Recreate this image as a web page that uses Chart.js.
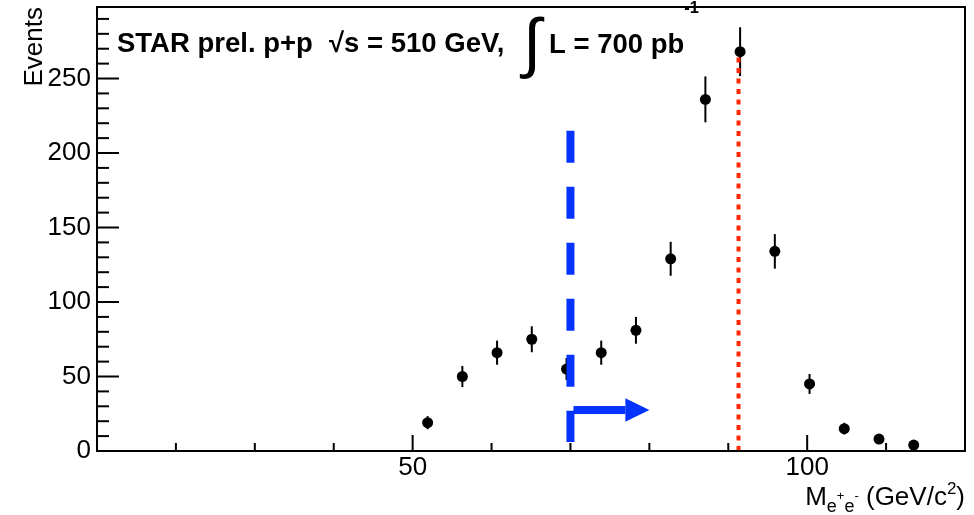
<!DOCTYPE html>
<html>
<head>
<meta charset="utf-8">
<script src="https://cdn.jsdelivr.net/npm/chart.js@4"></script>
<style>
  html, body { margin: 0; padding: 0; background: #fff; }
  #c { display: block; }
</style>
</head>
<body>
<canvas id="c" width="974" height="515"></canvas>
<script>
// invariant mass bins (GeV/c^2), counts and stat. errors
const massBins = [51.9, 56.3, 60.7, 65.1, 69.5, 73.9, 78.3, 82.7, 87.1, 91.5, 95.9, 100.3, 104.7, 109.1, 113.5];
const events = [19, 50, 66, 75, 55, 66, 81, 129, 236, 268, 134, 45, 15, 8, 4];
const eventErr = [4.4, 7.1, 8.1, 8.7, 7.4, 8.1, 9.0, 11.4, 15.4, 16.4, 11.6, 6.7, 3.9, 2.8, 2.0];

// mass cut (blue) and Z mass (red)
const cutMass = 70;
const cutLineY = [6, 215];
const cutArrowY = 27.5;
const cutArrowX = [70, 80];
const zMass = 91.3;
const zLineY = [0, 265];

// axes
const xRange = [10, 120];
const yRange = [0, 298];
const xLabels = [50, 100];
const yLabels = [0, 50, 100, 150, 200, 250];
const xMinorTicks = [20, 30, 40, 60, 70, 80, 90, 110];
const yMinorTicks = [10, 20, 30, 40, 60, 70, 80, 90, 110, 120, 130, 140, 160, 170, 180, 190,
                     210, 220, 230, 240, 260, 270, 280, 290];

const FONT = '"Liberation Sans", Arial, Helvetica, sans-serif';
const BLUE = '#0433ff';
const RED = '#ff2600';

// draw a run of text pieces: [text, size, dy, bold]
function drawRich(ctx, x, y, parts, align) {
    const widths = parts.map(p => {
        ctx.font = (p[3] ? 'bold ' : '') + p[1] + 'px ' + FONT;
        return ctx.measureText(p[0]).width;
    });
    const total = widths.reduce((a, b) => a + b, 0);
    let cx = align === 'right' ? x - total : x;
    parts.forEach((p, i) => {
        ctx.font = (p[3] ? 'bold ' : '') + p[1] + 'px ' + FONT;
        ctx.fillText(p[0], cx, y + p[2]);
        cx += widths[i];
    });
}

const errorBars = {
    id: 'errorBars',
    beforeDatasetsDraw(chart) {
        const { ctx, scales: { x, y } } = chart;
        ctx.save();
        ctx.strokeStyle = '#000';
        ctx.lineWidth = 2;
        massBins.forEach((m, i) => {
            const px = x.getPixelForValue(m);
            ctx.beginPath();
            ctx.moveTo(px, y.getPixelForValue(events[i] - eventErr[i]));
            ctx.lineTo(px, y.getPixelForValue(events[i] + eventErr[i]));
            ctx.stroke();
        });
        ctx.restore();
    }
};

const frameAndText = {
    id: 'frameAndText',
    afterDraw(chart) {
        const { ctx, chartArea: a, scales: { x, y } } = chart;
        ctx.save();

        // arrow showing the accepted side of the cut
        const ay = y.getPixelForValue(cutArrowY);
        const ax0 = x.getPixelForValue(cutArrowX[0]) + 3;
        const ax1 = x.getPixelForValue(cutArrowX[1]);
        ctx.fillStyle = BLUE;
        ctx.fillRect(ax0, ay - 4, ax1 - 24 - ax0, 8);
        ctx.beginPath();
        ctx.moveTo(ax1, ay);
        ctx.lineTo(ax1 - 24, ay - 11.7);
        ctx.lineTo(ax1 - 24, ay + 11.7);
        ctx.closePath();
        ctx.fill();

        // frame
        ctx.strokeStyle = '#000';
        ctx.lineWidth = 2;
        ctx.strokeRect(a.left, a.top, a.right - a.left, a.bottom - a.top);

        // inward ticks
        const tick = (x0, y0, x1, y1) => { ctx.beginPath(); ctx.moveTo(x0, y0); ctx.lineTo(x1, y1); ctx.stroke(); };
        xLabels.forEach(v => { const p = x.getPixelForValue(v); tick(p, a.bottom, p, a.bottom - 16); });
        xMinorTicks.forEach(v => { const p = x.getPixelForValue(v); tick(p, a.bottom, p, a.bottom - 8); });
        yLabels.forEach(v => { const p = y.getPixelForValue(v); tick(a.left, p, a.left + 22, p); });
        yMinorTicks.forEach(v => { const p = y.getPixelForValue(v); tick(a.left, p, a.left + 12, p); });

        // header
        ctx.fillStyle = '#000';
        ctx.textBaseline = 'alphabetic';
        ctx.textAlign = 'left';
        drawRich(ctx, 117, 52, [['STAR prel. p+p', 27.5, 0, true]]);
        drawRich(ctx, 329, 52, [['\u221As = 510 GeV,', 27.5, 0, true]]);
        drawRich(ctx, 523, 65, [['\u222B', 66, 0, false]]);
        drawRich(ctx, 549, 53, [['L = 700 pb', 27.5, 0, true], ['-1', 16.5, -40, true]]);

        // axis titles
        drawRich(ctx, 965, 505, [
            ['M', 26, 0], ['e', 18, 7], ['+', 13, -5], ['e', 18, 7], ['-', 13, -5],
            [' (GeV/c', 26, 0], ['2', 17, -11], [')', 26, 0]
        ], 'right');

        ctx.translate(42, a.top);
        ctx.rotate(-Math.PI / 2);
        drawRich(ctx, 0, 0, [['Events', 26, 0]], 'right');
        ctx.restore();
    }
};

const ctx = document.getElementById('c').getContext('2d');
new Chart(ctx, {
    type: 'scatter',
    data: {
        datasets: [{
            label: 'Events',
            data: massBins.map((m, i) => ({ x: m, y: events[i] })),
            pointRadius: 5.5,
            pointHoverRadius: 5.5,
            backgroundColor: '#000',
            borderColor: '#000',
            borderWidth: 0,
            order: 1
        }, {
            label: 'cut',
            data: [{ x: cutMass, y: cutLineY[1] }, { x: cutMass, y: cutLineY[0] }],
            showLine: true,
            borderColor: BLUE,
            borderWidth: 8,
            borderDash: [32, 24],
            borderCapStyle: 'butt',
            pointRadius: 0,
            order: 0
        }, {
            label: 'Z',
            data: [{ x: zMass, y: zLineY[0] }, { x: zMass, y: zLineY[1] }],
            showLine: true,
            borderColor: RED,
            borderWidth: 4,
            borderDash: [5, 5.5],
            borderCapStyle: 'butt',
            pointRadius: 0,
            order: 2
        }]
    },
    options: {
        responsive: false,
        animation: false,
        devicePixelRatio: 1,
        layout: { padding: { top: 7, right: 9, left: 0, bottom: 0 } },
        plugins: { legend: { display: false }, tooltip: { enabled: false } },
        scales: {
            x: {
                type: 'linear',
                min: xRange[0],
                max: xRange[1],
                grid: { display: false, drawTicks: false },
                border: { display: false },
                ticks: {
                    stepSize: 10,
                    autoSkip: false,
                    maxRotation: 0,
                    padding: 1,
                    color: '#000',
                    font: { family: FONT, size: 26 },
                    callback: v => xLabels.includes(v) ? String(v) : null
                },
                afterFit: s => {
                    s.height = 64;
                    s.paddingLeft = 0;
                    s.paddingRight = 0;
                }
            },
            y: {
                min: yRange[0],
                max: yRange[1],
                grid: { display: false, drawTicks: false },
                border: { display: false },
                ticks: {
                    stepSize: 10,
                    autoSkip: false,
                    padding: 6,
                    color: '#000',
                    font: { family: FONT, size: 26 },
                    callback: v => yLabels.includes(v) ? String(v) : null
                },
                afterFit: s => {
                    s.width = 97;
                    s.paddingTop = 0;
                    s.paddingBottom = 0;
                }
            }
        }
    },
    plugins: [errorBars, frameAndText]
});
</script>
</body>
</html>
